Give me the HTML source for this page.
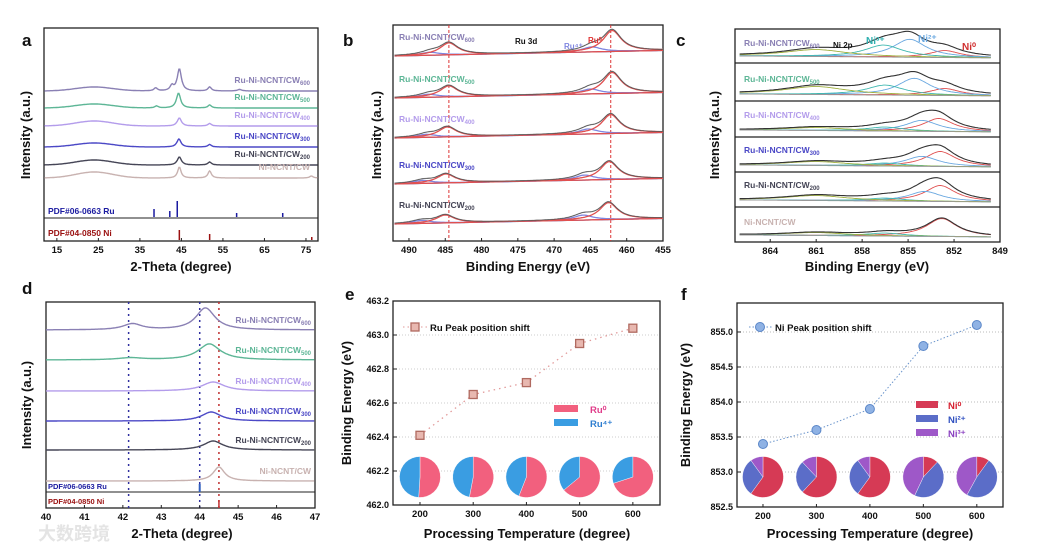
<!DOCTYPE html>
<html><head><meta charset="utf-8"><style>
body{margin:0;background:#fff;}
svg{display:block;font-family:"Liberation Sans",sans-serif;}
text{font-weight:bold;}
</style></head><body>
<svg id="s" width="1040" height="551" viewBox="0 0 1040 551" xmlns="http://www.w3.org/2000/svg"></svg>
<script>
// ===== data =====
const eTemps=[200,300,400,500,600];
const eRu=[462.41,462.65,462.72,462.95,463.04];
const eRu0Frac=[0.51,0.53,0.56,0.64,0.70];
const eYTicks=[462.0,462.2,462.4,462.6,462.8,463.0,463.2];
const fTemps=[200,300,400,500,600];
const fNi=[853.4,853.6,853.9,854.8,855.1];
const fNi0=[0.60,0.62,0.60,0.12,0.10];
const fNi2=[0.30,0.26,0.30,0.45,0.48];
const fNi3=[0.10,0.12,0.10,0.43,0.42];
const fYTicks=[852.5,853.0,853.5,854.0,854.5,855.0];
const xTicksT=[200,300,400,500,600];
const aTicks=[15,25,35,45,55,65,75];
const bTicks=[490,485,480,475,470,465,460,455];
const cTicks=[864,861,858,855,852,849];
const dTicks=[40,41,42,43,44,45,46,47];
const sampleNames=["Ru-Ni-NCNT/CW","Ru-Ni-NCNT/CW","Ru-Ni-NCNT/CW","Ru-Ni-NCNT/CW","Ru-Ni-NCNT/CW","Ni-NCNT/CW"];
const sampleSubs=["600","500","400","300","200",""];
const sampleColors=["#8a80b4","#5db696","#b39ceb","#4b48c6","#454556","#c8b2b0"];
const aPeaks=[
 [[44.5,22,0.6],[42.7,5,0.5],[38.8,3,0.5],[51.8,4,0.5],[59,1.5,0.6]],
 [[44.3,15,0.6],[51.8,3,0.5],[39,2,0.5]],
 [[44.5,8,0.6],[51.8,2.5,0.5]],
 [[44.4,8,0.6],[51.8,2.5,0.5]],
 [[44.5,8,0.6],[51.8,3,0.5]],
 [[44.5,11,0.5],[51.8,7,0.5],[76.3,2,0.5]]];
const aBase=[91,108,126,147,165,178];
const aHump=[4,4,5,4,5,6];
const ruRef=[[38.4,8],[42.2,6],[44.0,16],[58.3,4],[69.4,4]];
const niRef=[[44.5,10],[51.8,6],[76.4,3]];
const bBase=[56,98,138,184,224];
const bRu0=[[462.0,21],[462.0,21],[462.2,19],[462.4,18],[462.5,17]];
const bRu0b=[12,11,10,9,8];
const bRu4=[[464.8,5],[465.0,5],[465.3,5],[465.8,5],[466.0,5]];
const cBase=[58,96,132,167,202,237];
const cNi0=[[852.6,7],[852.6,7],[853.0,13],[852.9,15],[852.9,16],[852.8,18]];
const cNi2=[[854.9,18],[854.6,17],[854.1,11],[854.1,10],[853.9,10],[854,0]];
const cNi3=[[856.6,12],[856.5,10],[856.5,4],[856.5,3],[856.5,3],[856.5,3]];
const cSat=[7,8,3,4,5,3];
const dPeaks=[[[44.15,22,0.3],[42.25,6,0.3]],[[44.25,16,0.35],[42.2,2,0.4]],[[44.35,9,0.35]],[[44.3,9,0.3]],[[44.35,9,0.3]],[[44.5,14,0.18]]];
const dBase=[330,360,391,421,450,481];

const S=document.getElementById('s');
const NS='http://www.w3.org/2000/svg';
function mk(tag,attrs,parent){const e=document.createElementNS(NS,tag);for(const k in attrs)e.setAttribute(k,attrs[k]);(parent||S).appendChild(e);return e;}
function lin(d0,d1,p0,p1){return v=>p0+(v-d0)/(d1-d0)*(p1-p0);}
function txt(x,y,s,size,opts){const t=mk('text',Object.assign({x:x,y:y,'font-size':size,fill:'#111'},opts||{}));t.textContent=s;return t;}
function lor(x,c,h,w){return h/(1+((x-c)/w)*((x-c)/w));}
function path(pts){return 'M'+pts.map(p=>p[0].toFixed(1)+','+p[1].toFixed(1)).join('L');}
function box(x0,y0,x1,y1,name){const r=mk('rect',{x:x0,y:y0,width:x1-x0,height:y1-y0,fill:'none',stroke:'#222','stroke-width':1.3});}
function ytitle(x,y,s,name){const t=txt(x,y,s,13,{transform:'rotate(-90 '+x+' '+y+')','text-anchor':'middle'});}
function label(x,y,s){const t=txt(x,y,s,17,{'font-weight':'bold'});}
function sampleLabel(x,y,i,anchor,size){const t=txt(x,y,sampleNames[i],size||8.5,{fill:sampleColors[i],'text-anchor':anchor||'end'});if(sampleSubs[i]){const ts=mk('tspan',{'font-size':6,dy:2},t);ts.textContent=sampleSubs[i];}}
function xticks(sx,ticks,y,name){ticks.forEach(v=>{const x=sx(v);mk('line',{x1:x,x2:x,y1:y,y2:y-3,stroke:'#222'});const t=txt(x,y+12,String(v),9.5,{'text-anchor':'middle'});});}

// ===== panel a =====
label(22,46,'a');
const ax=lin(11.9,77.9,44,318);
box(44,28,318,241,'panel-a-frame');
mk('line',{x1:44,x2:318,y1:218,y2:218,stroke:'#222'});
for(let i=0;i<6;i++){const pts=[];for(let x=12;x<=77.9;x+=0.2){let y=aBase[i]-aHump[i]*Math.exp(-((x-24)*(x-24))/40);aPeaks[i].forEach(p=>y-=lor(x,p[0],p[1],p[2]));pts.push([ax(x),y]);}
 const p=mk('path',{d:path(pts),fill:'none',stroke:sampleColors[i],'stroke-width':1.4});
 sampleLabel(310,aBase[i]-8,i,'end',8.5);}
ruRef.forEach(r=>{const l=mk('line',{x1:ax(r[0]),x2:ax(r[0]),y1:217,y2:217-r[1],stroke:'#1a1aa0','stroke-width':1.5});});
niRef.forEach(r=>{const l=mk('line',{x1:ax(r[0]),x2:ax(r[0]),y1:240,y2:240-r[1],stroke:'#9a1010','stroke-width':1.5});});
txt(48,214,'PDF#06-0663 Ru',8.5,{fill:'#1a1aa0'});
txt(48,236,'PDF#04-0850 Ni',8.5,{fill:'#9a1010'});
xticks(ax,aTicks,241,'x-tick-a');
txt(181,271,'2-Theta (degree)',13,{'text-anchor':'middle'});
ytitle(30,135,'Intensity (a.u.)','y-title-a');

// ===== panel b =====
label(343,46,'b');
const bx=lin(492.2,455,393,663);
box(393,25,663,241,'panel-b-frame');
[462.2,484.5].forEach(v=>{const l=mk('line',{x1:bx(v),x2:bx(v),y1:25,y2:241,stroke:'#d33','stroke-width':1,'stroke-dasharray':'3,2'});});
for(let i=0;i<5;i++){const base=bBase[i];const bg=x=>base+(x-492)*0.15;
 const r0=[],r1=[],b0=[],b1=[],env=[],bl=[];
 for(let x=492;x>=455;x-=0.2){const y0=bg(x);const a=lor(x,bRu0[i][0],bRu0[i][1],1.5),b=lor(x,bRu0[i][0]+22.5,bRu0b[i],1.5),c=lor(x,bRu4[i][0],bRu4[i][1],1.6),d=lor(x,bRu4[i][0]+22.3,bRu4[i][1]*0.6,1.6);
  r0.push([bx(x),y0-a]);r1.push([bx(x),y0-b]);b0.push([bx(x),y0-c]);b1.push([bx(x),y0-d]);env.push([bx(x),y0-a-b-c-d]);bl.push([bx(x),y0]);}
 [[bl,'#aaa'],[env,'#bbb'],[b0,'#7f86e0'],[b1,'#7f86e0'],[r0,'#e05050'],[r1,'#e05050']].forEach(q=>{const p=mk('path',{d:path(q[0]),fill:'none',stroke:q[1],'stroke-width':1.3});});
 const e=mk('path',{d:path(env),fill:'none',stroke:'#555','stroke-width':0.8});
 sampleLabel(399,base-16,i,'start',8.5);}
txt(515,44,'Ru 3d',8,{});
txt(564,49,'Ru⁴⁺',8,{fill:'#7f86e0'});
txt(588,43,'Ru⁰',8,{fill:'#e03030'});
xticks(bx,bTicks,241,'x-tick-b');
txt(528,271,'Binding Energy (eV)',13,{'text-anchor':'middle'});
ytitle(381,135,'Intensity (a.u.)','y-title-b');

// ===== panel c =====
label(676,46,'c');
const cx=lin(866.3,849,735,1000);
box(735,29,1000,242,'panel-c-frame');
[63,101,137,172,207].forEach(y=>mk('line',{x1:735,x2:1000,y1:y,y2:y,stroke:'#222','stroke-width':1.2}));
for(let i=0;i<6;i++){const base=cBase[i];const bg=x=>base-(x-849)*0.12;
 const arr=[[],[],[],[],[],[]];
 for(let x=866;x>=849.5;x-=0.1){const y0=bg(x);const a=lor(x,cNi0[i][0],cNi0[i][1],1.2),b=lor(x,cNi2[i][0],cNi2[i][1],1.3),c=lor(x,cNi3[i][0],cNi3[i][1],1.5),d=lor(x,861,cSat[i],2.5);
  arr[0].push([cx(x),y0-a]);arr[1].push([cx(x),y0-b]);arr[2].push([cx(x),y0-c]);arr[3].push([cx(x),y0-d]);arr[4].push([cx(x),y0-a-b-c-d]);arr[5].push([cx(x),y0]);}
 const cols=['#e05050','#6aa8e0','#40b8b0','#a0b040','#333','#999'];
 arr.forEach((q,k)=>{const p=mk('path',{d:path(q),fill:'none',stroke:cols[k],'stroke-width':k==4?1.1:0.9});});
 sampleLabel(744,[46,82,118,153,188,225][i],i,'start',8.5);}
txt(833,48,'Ni 2p',8,{});
txt(866,44,'Ni³⁺',10,{fill:'#30b0b0'});
txt(918,42,'Ni²⁺',10,{fill:'#6aa8e0'});
txt(962,50,'Ni⁰',10,{fill:'#d03030'});
xticks(cx,cTicks,242,'x-tick-c');
txt(867,271,'Binding Energy (eV)',13,{'text-anchor':'middle'});
ytitle(719,135,'Intensity (a.u.)','y-title-c');

// ===== panel d =====
label(22,294,'d');
const dx=lin(40,47,46,315);
box(46,302,315,508,'panel-d-frame');
mk('line',{x1:46,x2:315,y1:492,y2:492,stroke:'#222'});
[[42.15,'#3030a0'],[44.0,'#3030a0'],[44.5,'#c03030']].forEach(q=>{const l=mk('line',{x1:dx(q[0]),x2:dx(q[0]),y1:302,y2:508,stroke:q[1],'stroke-width':1.5,'stroke-dasharray':'2,4'});});
for(let i=0;i<6;i++){const pts=[];for(let x=40;x<=47;x+=0.02){let y=dBase[i];dPeaks[i].forEach(p=>y-=lor(x,p[0],p[1],p[2]));pts.push([dx(x),y]);}
 const p=mk('path',{d:path(pts),fill:'none',stroke:sampleColors[i],'stroke-width':1.4});
 sampleLabel(311,dBase[i]-7,i,'end',8.5);}
mk('line',{x1:dx(44),x2:dx(44),y1:492,y2:484,stroke:'#3060c0','stroke-width':2});
mk('line',{x1:dx(44.5),x2:dx(44.5),y1:508,y2:500,stroke:'#c03030','stroke-width':1.5});
txt(48,489,'PDF#06-0663 Ru',7.5,{fill:'#1a1aa0'});
txt(48,504,'PDF#04-0850 Ni',7.5,{fill:'#9a1010'});
xticks(dx,dTicks,508,'x-tick-d');
txt(182,538,'2-Theta (degree)',13,{'text-anchor':'middle'});
ytitle(31,405,'Intensity (a.u.)','y-title-d');
txt(38,540,'大数跨境',18,{fill:'#e4e4e4','font-family':'Noto Sans CJK SC,sans-serif'});

// ===== panel e =====
label(345,300,'e');
const ex=lin(149.3,651,393,660), ey=lin(462.0,463.2,505,301);
eYTicks.forEach(v=>{const y=ey(v);if(v>462.0&&v<463.2)mk('line',{x1:393,x2:660,y1:y,y2:y,stroke:'#ccc','stroke-dasharray':'1,2'});mk('line',{x1:393,x2:397,y1:y,y2:y,stroke:'#222'});const t=txt(389,y+3,v.toFixed(1),9,{'text-anchor':'end'});});
box(393,301,660,505,'panel-e-frame');
xticks(ex,xTicksT,505,'x-tick-e');
const eLine=mk('path',{d:path(eTemps.map((t,i)=>[ex(t),ey(eRu[i])])),fill:'none',stroke:'#e29a9a','stroke-width':1.3,'stroke-dasharray':'1.5,4'});


eTemps.forEach((t,i)=>{const r=mk('rect',{x:ex(t)-4,y:ey(eRu[i])-4,width:8,height:8,fill:'#e8b8b0',stroke:'#b06a60','stroke-width':1.3});});
mk('line',{x1:403,x2:427,y1:327,y2:327,stroke:'#e29a9a','stroke-dasharray':'1.5,3'});
mk('rect',{x:411,y:323,width:8,height:8,fill:'#e8b8b0',stroke:'#b06a60','stroke-width':1.3});
txt(430,331,'Ru Peak position shift',9.5,{});
function pie(cx0,cy,r,fracs,cols,name){let a=-Math.PI/2;fracs.forEach((f,k)=>{const a2=a+f*2*Math.PI;const large=f>0.5?1:0;const d='M'+cx0+','+cy+'L'+(cx0+r*Math.cos(a))+','+(cy+r*Math.sin(a))+'A'+r+','+r+' 0 '+large+' 1 '+(cx0+r*Math.cos(a2))+','+(cy+r*Math.sin(a2))+'Z';const p=mk('path',{d:d,fill:cols[k],stroke:'#fff','stroke-width':0.4});a=a2;});}
eTemps.forEach((t,i)=>pie(ex(t),477,20.5,[eRu0Frac[i],1-eRu0Frac[i]],['#f2607e','#3a9de2'],'ru-pie-slice'));
mk('rect',{x:554,y:405,width:24,height:7,fill:'#f2607e'});
mk('rect',{x:554,y:419,width:24,height:7,fill:'#3a9de2'});
txt(590,413,'Ru⁰',9.5,{fill:'#e03c8a'});
txt(590,427,'Ru⁴⁺',9.5,{fill:'#2e7ed0'});
txt(527,538,'Processing Temperature (degree)',13,{'text-anchor':'middle'});
ytitle(351,403,'Binding Energy (eV)','y-title-e');

// ===== panel f =====
label(681,300,'f');
const fx=lin(151.4,649,737,1003), fy=lin(852.5,855.414,507,303);
fYTicks.forEach(v=>{const y=fy(v);if(v>852.5)mk('line',{x1:737,x2:1003,y1:y,y2:y,stroke:'#bbb','stroke-dasharray':'1,2'});mk('line',{x1:737,x2:741,y1:y,y2:y,stroke:'#222'});const t=txt(733,y+3,v.toFixed(1),9,{'text-anchor':'end'});});
box(737,303,1003,507,'panel-f-frame');
xticks(fx,xTicksT,507,'x-tick-f');
const fLine=mk('path',{d:path(fTemps.map((t,i)=>[fx(t),fy(fNi[i])])),fill:'none',stroke:'#6b95cc','stroke-width':1,'stroke-dasharray':'1.5,2'});


fTemps.forEach((t,i)=>{const c=mk('circle',{cx:fx(t),cy:fy(fNi[i]),r:4.5,fill:'#8fb2e4',stroke:'#5a86c8','stroke-width':1});});
mk('line',{x1:749,x2:773,y1:327,y2:327,stroke:'#6b95cc','stroke-dasharray':'1.5,2'});
mk('circle',{cx:760,cy:327,r:4.5,fill:'#8fb2e4',stroke:'#5a86c8'});
txt(775,331,'Ni Peak position shift',9.5,{});
fTemps.forEach((t,i)=>pie(fx(t),477,20.5,[fNi0[i],fNi2[i],fNi3[i]],['#d63a55','#5b6dc8','#9e58c8'],'ni-pie-slice'));
[['#d63a55','Ni⁰','#d62030'],['#5b6dc8','Ni²⁺','#3050c0'],['#9e58c8','Ni³⁺','#8a40c0']].forEach((q,k)=>{mk('rect',{x:916,y:401+k*14,width:22,height:7,fill:q[0]});const t=txt(948,409+k*14,q[1],9.5,{fill:q[2]});});
txt(870,538,'Processing Temperature (degree)',13,{'text-anchor':'middle'});
ytitle(690,405,'Binding Energy (eV)','y-title-f');
</script>
</body></html>
